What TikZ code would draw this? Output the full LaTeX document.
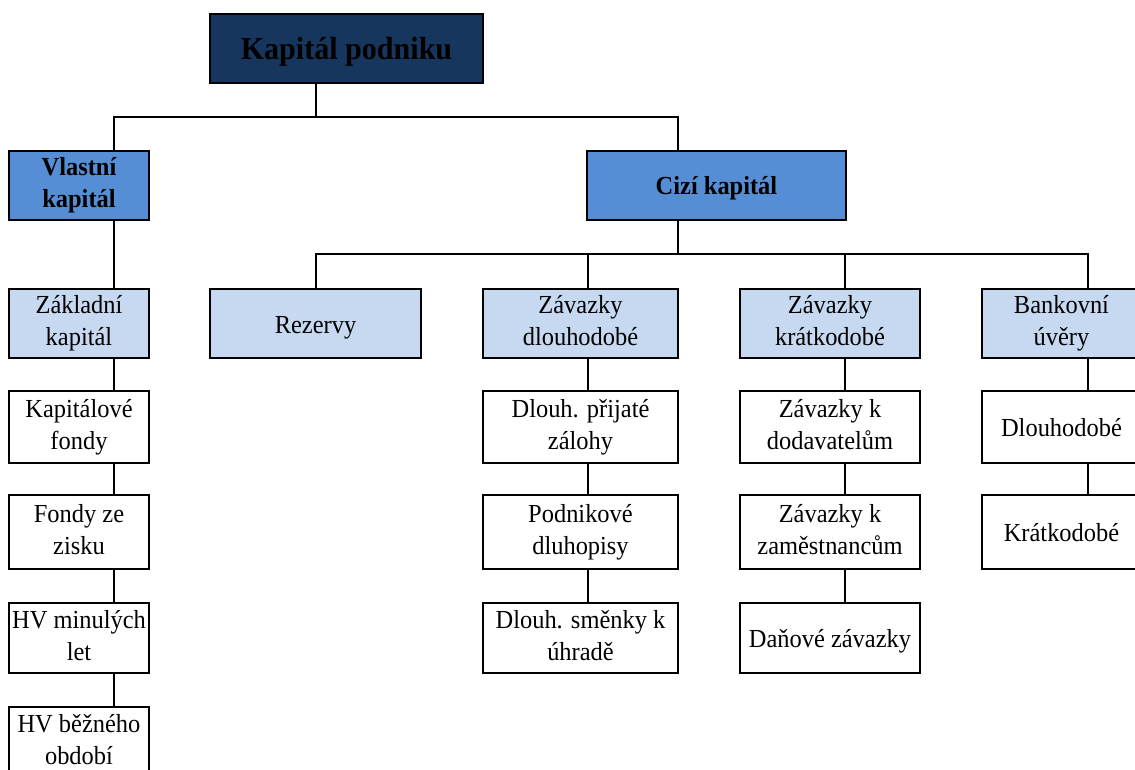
\documentclass[tikz,border=0pt]{standalone}
\usepackage{fontspec}
\setmainfont{Liberation Serif}[FakeStretch=0.94]
\definecolor{navy}{RGB}{23,54,93}
\definecolor{midblue}{RGB}{85,142,213}
\definecolor{lightblue}{RGB}{198,217,241}
\newcommand{\boxstrut}{\rule[-6pt]{0pt}{31pt}}
\newcommand{\bigstrut}{\rule[-7pt]{0pt}{37pt}}
\begin{document}
\begin{tikzpicture}[x=1pt,y=-1pt,
  base/.style={draw=black, line width=1.6pt, align=center, inner sep=0pt, text=black},
  box/.style={base, fill=white, font=\fontsize{26}{32}\selectfont,
    execute at begin node={\boxstrut}, execute at end node={\boxstrut}},
  topbox/.style={base, fill=navy, font=\fontsize{32}{38}\selectfont\bfseries,
    execute at begin node={\bigstrut}, execute at end node={\bigstrut}},
  lvtwo/.style={box, fill=midblue, font=\fontsize{26}{32}\selectfont\bfseries},
  lvthree/.style={box, fill=lightblue},
  link/.style={draw=black, line width=1.6pt}]
\useasboundingbox (0,0) rectangle (1135,770);
% column connector positions
\coordinate (colA) at (114,0);
\coordinate (colB) at (316,0);
\coordinate (colC) at (588,0);
\coordinate (colD) at (845,0);
\coordinate (colE) at (1088,0);
\coordinate (j1) at (316,117);
\coordinate (j2) at (678,254);
% level 1
\node[topbox, minimum width=273, minimum height=69] (top) at (346.5,48.5) {Kapitál podniku};
% level 2
\node[lvtwo, minimum width=140, minimum height=69] (vl) at (79,185.5) {Vlastní\\kapitál};
\node[lvtwo, minimum width=259, minimum height=69] (ci) at (716.5,185.5) {Cizí kapitál};
% level 3
\node[lvthree, minimum width=140, minimum height=69] (zk) at (79,323.5) {Základní\\kapitál};
\node[lvthree, minimum width=211, minimum height=69] (rez) at (315.5,323.5) {Rezervy};
\node[lvthree, minimum width=195, minimum height=69] (zd) at (580.5,323.5) {Závazky\\dlouhodobé};
\node[lvthree, minimum width=180, minimum height=69] (zkr) at (830,323.5) {Závazky\\krátkodobé};
\node[lvthree, minimum width=159, minimum height=69] (bu) at (1061.5,323.5) {Bankovní\\úvěry};
% left column
\node[box, minimum width=140, minimum height=72] (kf) at (79,427) {Kapitálové\\fondy};
\node[box, minimum width=140, minimum height=74] (fz) at (79,532) {Fondy ze\\zisku};
\node[box, minimum width=140, minimum height=70] (hvm) at (79,638) {HV minulých\\let};
\node[box, minimum width=140, minimum height=70] (hvb) at (79,742) {HV běžného\\období};
% dlouhodobé column
\node[box, minimum width=195, minimum height=72] (dpz) at (580.5,427) {Dlouh. přijaté\\zálohy};
\node[box, minimum width=195, minimum height=74] (pd) at (580.5,532) {Podnikové\\dluhopisy};
\node[box, minimum width=195, minimum height=70] (dsk) at (580.5,638) {Dlouh. směnky k\\úhradě};
% krátkodobé column
\node[box, minimum width=180, minimum height=72] (zkd) at (830,427) {Závazky k\\dodavatelům};
\node[box, minimum width=180, minimum height=74] (zkz) at (830,532) {Závazky k\\zaměstnancům};
\node[box, minimum width=180, minimum height=70] (dz) at (830,638) {Daňové závazky};
% bank column
\node[box, minimum width=159, minimum height=72] (bdl) at (1061.5,427) {Dlouhodobé};
\node[box, minimum width=159, minimum height=74] (bkr) at (1061.5,532) {Krátkodobé};
% tree connectors
\draw[link] (top.south -| j1) -- (j1);
\draw[link] (vl.north -| colA) |- (j1) -| (ci.north -| j2);
\draw[link] (ci.south -| j2) -- (j2);
\draw[link] (rez.north -| colB) |- (j2) -| (bu.north -| colE);
\draw[link] (zd.north -| colC) -- (colC |- j2);
\draw[link] (zkr.north -| colD) -- (colD |- j2);
\draw[link] (vl.south -| colA) -- (zk.north -| colA);
% column connectors
\draw[link] (zk.south -| colA) -- (kf.north -| colA);
\draw[link] (kf.south -| colA) -- (fz.north -| colA);
\draw[link] (fz.south -| colA) -- (hvm.north -| colA);
\draw[link] (hvm.south -| colA) -- (hvb.north -| colA);
\draw[link] (zd.south -| colC) -- (dpz.north -| colC);
\draw[link] (dpz.south -| colC) -- (pd.north -| colC);
\draw[link] (pd.south -| colC) -- (dsk.north -| colC);
\draw[link] (zkr.south -| colD) -- (zkd.north -| colD);
\draw[link] (zkd.south -| colD) -- (zkz.north -| colD);
\draw[link] (zkz.south -| colD) -- (dz.north -| colD);
\draw[link] (bu.south -| colE) -- (bdl.north -| colE);
\draw[link] (bdl.south -| colE) -- (bkr.north -| colE);
\end{tikzpicture}
\end{document}
